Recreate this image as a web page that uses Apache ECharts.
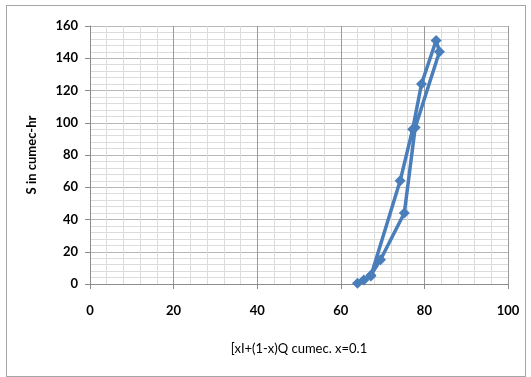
<!DOCTYPE html>
<html>
<head>
<meta charset="utf-8">
<script src="https://cdn.jsdelivr.net/npm/echarts@6/dist/echarts.min.js"></script>
<style>
  html, body { margin: 0; padding: 0; background: #fff; }
  #frame { position: absolute; left: 6px; top: 5px; width: 518px; height: 370px; border: 1px solid #a6a6a6; }
  #myChart { position: absolute; left: 0; top: 0; width: 531px; height: 377px; }
</style>
</head>
<body>
<div id="frame"></div>
<div id="myChart"></div>
<script>
// weighted flow [xI+(1-x)Q] and storage S, in time order
const weightedFlow = [64.0, 65.5, 67.2, 74.2, 77.2, 79.3, 82.8, 83.6, 77.8, 75.2, 69.5, 67.2];
const storage = [0.5, 2.5, 5.0, 64, 96, 124, 151, 144, 97, 44, 15, 5.5];
const xTicks = [0, 20, 40, 60, 80, 100];
const yTicks = [0, 20, 40, 60, 80, 100, 120, 140, 160];

let points = weightedFlow.map((x, i) => [x, storage[i]]);

let chart = echarts.init(document.getElementById("myChart"));
let labelFont = { fontFamily: "Lato", fontWeight: "bold", fontSize: 13, color: "#000" };

let option = {
  animation: false,
  grid: { left: 90, right: 23, top: 26, bottom: 93 },
  xAxis: {
    type: "value",
    min: xTicks[0],
    max: xTicks[xTicks.length - 1],
    interval: 20,
    name: "[xI+(1-x)Q cumec. x=0.1",
    nameLocation: "middle",
    nameGap: 58,
    nameTextStyle: { fontFamily: "Lato", fontSize: 13, color: "#000" },
    axisLine: { lineStyle: { color: "#8c8c8c" } },
    axisTick: { show: true, length: 5, lineStyle: { color: "#8c8c8c" } },
    axisLabel: Object.assign({ margin: 20 }, labelFont),
    splitLine: { lineStyle: { color: "#9a9a9a" } },
    minorTick: { show: false, splitNumber: 5 },
    minorSplitLine: { show: true, lineStyle: { color: "#dcdcdc" } }
  },
  yAxis: {
    type: "value",
    min: yTicks[0],
    max: yTicks[yTicks.length - 1],
    interval: 20,
    name: "S in cumec-hr",
    nameLocation: "middle",
    nameGap: 52,
    nameRotate: 90,
    nameTextStyle: { fontFamily: "Lato", fontWeight: "bold", fontSize: 13, color: "#000" },
    axisLine: { show: true, lineStyle: { color: "#8c8c8c" } },
    axisTick: { show: true, length: 5, lineStyle: { color: "#8c8c8c" } },
    axisLabel: Object.assign({ margin: 12 }, labelFont),
    splitLine: { lineStyle: { color: "#b8b8b8" } },
    minorTick: { show: false, splitNumber: 5 },
    minorSplitLine: { show: true, lineStyle: { color: "#dcdcdc" } }
  },
  series: [
    {
      type: "line",
      data: points,
      color: "#4A7EBB",
      lineStyle: { width: 3.5 },
      symbol: "diamond",
      symbolSize: 11,
      itemStyle: { color: "#4A7EBB" }
    }
  ]
};

chart.setOption(option);
</script>
</body>
</html>
